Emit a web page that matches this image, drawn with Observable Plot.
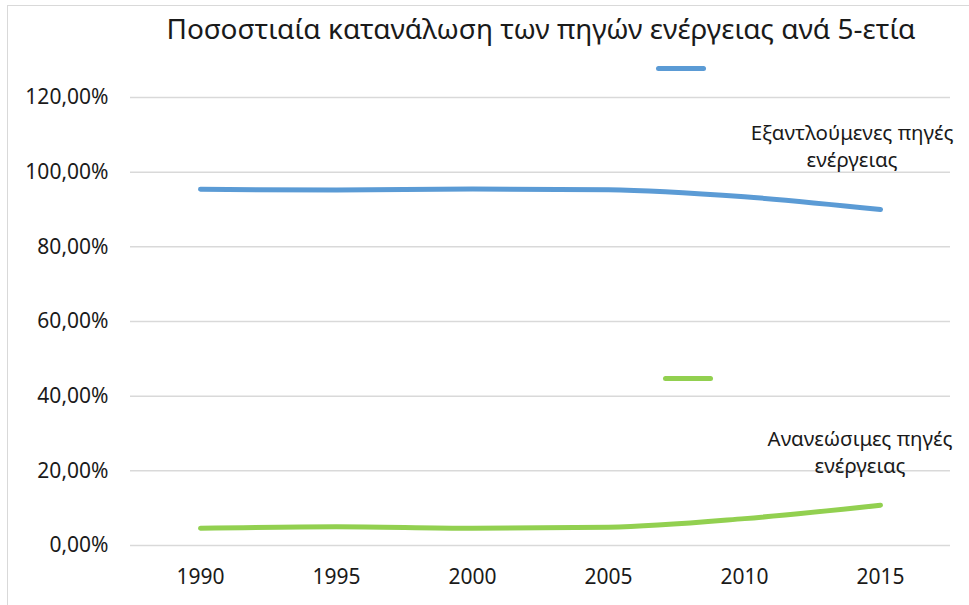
<!DOCTYPE html>
<html>
<head>
<meta charset="utf-8">
<script src="https://cdn.jsdelivr.net/npm/d3@7"></script>
<script src="https://cdn.jsdelivr.net/npm/@observablehq/plot@0.6"></script>
<style>
  html, body { margin: 0; padding: 0; background: #fff; }
  #wrap { position: relative; width: 969px; height: 605px; overflow: hidden; font-family: "Noto Sans", sans-serif; color: #1a1a1a; }
  #frame { position: absolute; left: 7px; top: 5px; width: 990px; height: 640px; border: 1.5px solid #d9d9d9; box-sizing: border-box; }
  #title { position: absolute; left: 0; width: 1082px; top: 9px; text-align: center; font-size: 28px; white-space: nowrap; }
  #chart { position: absolute; left: 0; top: 50px; }
  .sw { position: absolute; height: 5px; border-radius: 3px; }
  .lab { position: absolute; text-align: center; font-size: 20.5px; line-height: 27px; white-space: nowrap; }
</style>
</head>
<body>
<div id="wrap">
  <div id="frame"></div>
  <div id="title">Ποσοστιαία κατανάλωση των πηγών ενέργειας ανά 5-ετία</div>
  <div id="chart"></div>
</div>
<script>
const years = ["1990", "1995", "2000", "2005", "2010", "2015"];
const exhaustible = [95.4, 95.2, 95.5, 95.3, 93.4, 90.0];
const renewable = [4.6, 5.0, 4.6, 4.9, 7.2, 10.8];
const seriesNames = ["Εξαντλούμενες πηγές ενέργειας", "Ανανεώσιμες πηγές ενέργειας"];
const seriesColors = ["#5b9bd5", "#92d050"];
const yTicks = [0, 20, 40, 60, 80, 100, 120];

const data = [];
years.forEach((y, i) => {
  data.push({year: y, value: exhaustible[i], series: seriesNames[0]});
  data.push({year: y, value: renewable[i], series: seriesNames[1]});
});

const fmt = d => d.toFixed(2).replace(".", ",") + "%";

const chart = Plot.plot({
  width: 969,
  height: 555,
  marginLeft: 130,
  marginRight: 19,
  marginTop: 47,
  marginBottom: 60,
  style: {fontFamily: "Noto Sans, sans-serif", fontSize: "21px", color: "#1a1a1a", background: "transparent"},
  x: {type: "point", domain: years, padding: 0.5, label: null},
  y: {domain: [0, 120], label: null},
  color: {domain: seriesNames, range: seriesColors},
  marks: [
    Plot.gridY(yTicks, {stroke: "#d9d9d9", strokeOpacity: 1, strokeWidth: 1.5}),
    Plot.axisY(yTicks, {tickSize: 0, tickPadding: 22, tickFormat: fmt, label: null, fontSize: 21}),
    Plot.axisX({tickSize: 0, tickPadding: 24, label: null, fontSize: 21}),
    Plot.line(data, {x: "year", y: "value", z: "series", stroke: "series", strokeWidth: 5, strokeLinecap: "round", strokeLinejoin: "round", curve: "monotone-x"})
  ]
});
document.getElementById("chart").appendChild(chart);

// legend (Excel-style, positioned entries)
const wrap = document.getElementById("wrap");
const legendItems = [
  {name: seriesNames[0], lines: ["Εξαντλούμενες πηγές", "ενέργειας"], color: seriesColors[0], sw: [656, 66], lab: [732, 119, 240]},
  {name: seriesNames[1], lines: ["Ανανεώσιμες πηγές", "ενέργειας"], color: seriesColors[1], sw: [663, 376], lab: [740, 425, 240]}
];
legendItems.forEach(it => {
  const s = document.createElement("div");
  s.className = "sw";
  s.style.left = it.sw[0] + "px"; s.style.top = it.sw[1] + "px"; s.style.width = "50px";
  s.style.background = it.color;
  wrap.appendChild(s);
  const l = document.createElement("div");
  l.className = "lab";
  l.style.left = it.lab[0] + "px"; l.style.top = it.lab[1] + "px"; l.style.width = it.lab[2] + "px";
  l.innerHTML = it.lines.join("<br>");
  wrap.appendChild(l);
});
</script>
</body>
</html>
